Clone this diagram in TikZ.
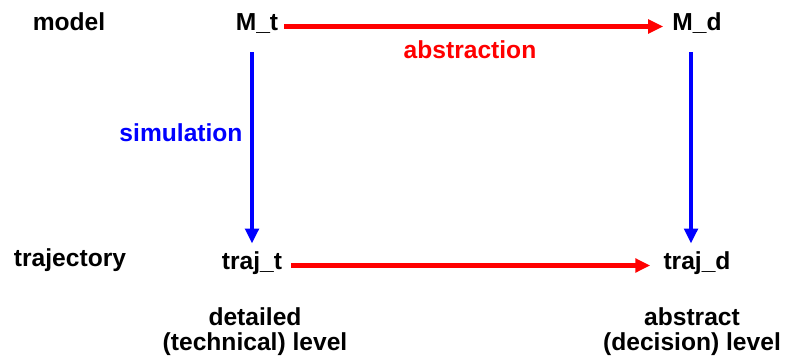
\documentclass[tikz,border=0pt]{standalone}
\usepackage{fontspec}
\setmainfont{Liberation Sans}
\usepackage{xcolor}
\usepackage{tikz}
\usetikzlibrary{arrows.meta}
\definecolor{absred}{HTML}{FF0000}
\definecolor{simblue}{HTML}{0000FF}
\tikzset{
  lab/.style={font=\fontsize{14}{15}\selectfont\bfseries, text height=1.5ex, text depth=0.6ex},
  multilab/.style={font=\fontsize{14}{14.2}\selectfont\bfseries, align=center},
  redarrow/.style={draw=absred, line width=2.3pt, -{Triangle[length=0.3cm,width=0.27cm]}},
  bluearrow/.style={draw=simblue, line width=2.3pt, -{Triangle[length=0.3cm,width=0.27cm]}},
}
\begin{document}
\begin{tikzpicture}
  \useasboundingbox (0,0) rectangle (15.7,7.24);

  \node[lab] (model) at (1.38,6.71) {model};
  \node[lab] (Mt) at (5.14,6.71) {M\_t};
  \node[lab] (Md) at (13.94,6.71) {M\_d};
  \node[lab] (traj) at (1.4,2.0) {trajectory};
  \node[lab] (trajt) at (5.04,1.93) {traj\_t};
  \node[lab] (trajd) at (13.94,1.93) {traj\_d};

  \draw[redarrow, shorten >=0.06cm] (Mt.east) -- (Md.west);
  \draw[redarrow, shorten <=0.06cm, shorten >=0.14cm] (trajt.east) -- (trajd.west);
  \draw[bluearrow, shorten <=0.2cm, shorten >=0.12cm] (Mt.south -| trajt.north) -- (trajt.north);
  \draw[bluearrow, shorten <=0.2cm, shorten >=0.12cm] ([xshift=-0.12cm]Md.south) -- ([xshift=-0.12cm]trajd.north);

  \node[lab, text=absred] (abslab) at (9.4,6.16) {abstraction};
  \node[lab, text=simblue] (simlab) at (3.62,4.5) {simulation};

  \node[multilab] (detlab) at (5.1,0.6) {detailed\\(technical) level};
  \node[multilab] (abstrlab) at (13.84,0.6) {abstract\\(decision) level};
\end{tikzpicture}
\end{document}
